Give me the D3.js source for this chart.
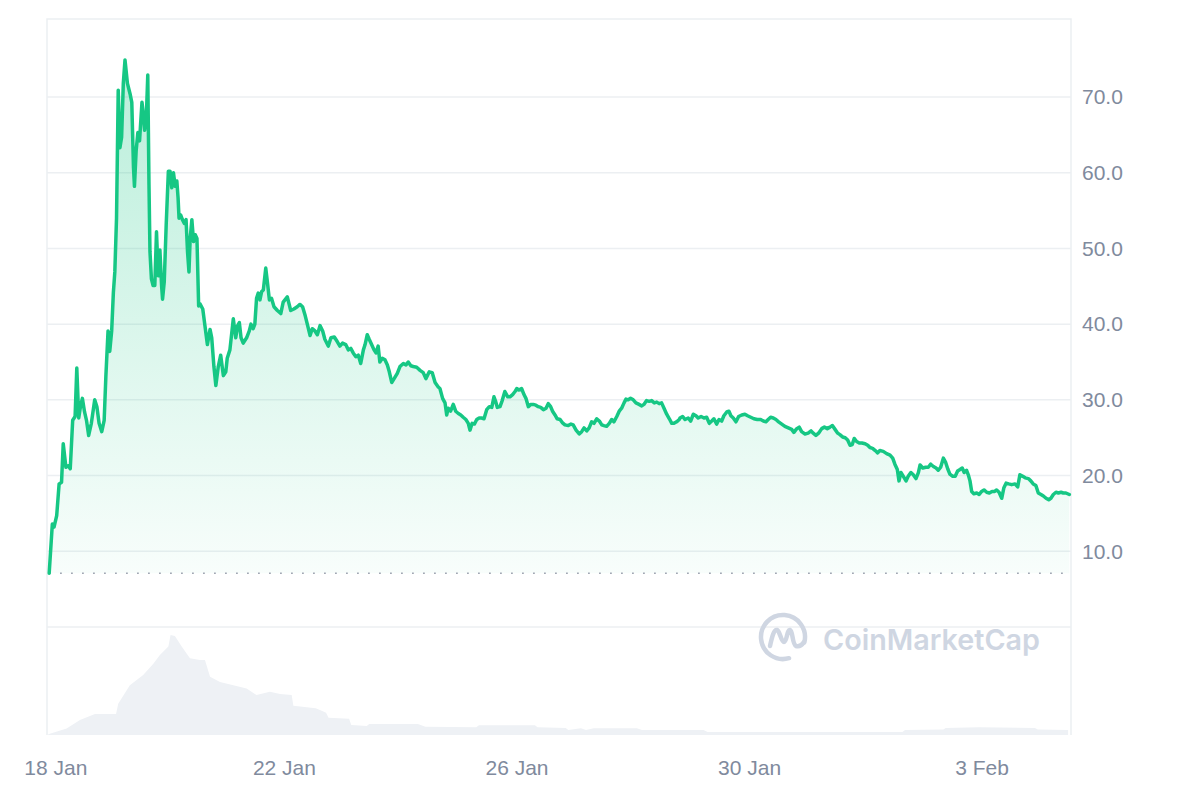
<!DOCTYPE html>
<html><head><meta charset="utf-8">
<script src="https://cdn.jsdelivr.net/npm/d3@7"></script>
<style>html,body{margin:0;padding:0;background:#fff;} svg{display:block}</style>
</head><body>
<svg id="chart" width="1200" height="800"></svg>
<script>
// ---- DATA (hours after 18 Jan 00:00) ----
const startDate = Date.UTC(2025, 0, 18, 0, 0);
const priceHours = [-0.9,0.4,1.1,2.2,3.2,4.2,4.9,6.0,7.0,7.8,8.8,9.8,10.5,11.3,12.0,12.8,13.7,14.5,15.4,16.5,17.9,18.8,19.7,20.8,21.8,22.5,23.4,24.1,24.9,25.6,26.2,26.9,27.6,28.3,29.0,29.7,30.4,31.4,32.5,33.2,33.9,34.3,35.0,35.7,36.4,37.4,37.9,38.5,39.2,39.8,40.3,40.7,41.3,42.0,42.7,43.4,44.1,44.8,45.5,45.9,46.6,47.4,48.3,49.0,49.7,50.4,51.1,51.8,52.3,52.7,53.4,54.1,54.9,55.6,56.2,56.8,57.3,58.0,58.7,59.4,60.1,60.8,
61.3,62.5,63.4,64.4,65.5,66.2,67.1,67.9,68.9,69.9,71.0,72.0,72.6,73.7,75.1,76.1,76.9,77.6,78.3,79.2,80.6,81.7,82.4,83.3,84.0,84.7,85.4,86.1,86.8,87.5,88.5,89.3,90.0,90.9,91.9,93.3,94.7,95.7,97.4,98.8,100.1,101.5,102.6,103.7,104.8,105.8,106.8,107.7,108.8,109.8,110.9,112.0,112.9,114.3,115.4,116.8,118.0,119.1,120.2,121.5,122.6,123.6,124.6,125.7,126.7,127.7,128.8,129.5,130.4,131.2,132.2,133.2,134.0,134.9,135.6,136.6,137.7,138.7,139.5,140.5,141.5,142.8,143.9,145.3,146.4,147.3,148.4,149.4,150.8,152.2,153.5,154.6,156.0,157.2,158.4,159.7,
160.4,161.5,162.5,163.2,163.8,164.8,165.9,166.9,168.0,169.0,170.0,171.1,172.1,172.8,173.7,174.6,175.6,176.6,177.6,178.6,179.7,180.8,181.8,182.7,183.4,184.1,185.2,186.1,187.2,188.4,189.3,190.4,191.4,192.1,193.0,194.1,195.1,195.9,196.9,197.9,198.9,200.0,201.0,202.0,203.1,204.2,205.1,206.1,206.9,207.9,208.8,210.0,210.9,212.0,213.4,214.5,215.4,216.6,217.9,218.9,219.9,221.0,222.0,223.0,224.0,225.1,226.2,227.2,228.1,229.2,230.3,231.3,232.2,233.4,234.4,235.4,236.4,237.2,238.1,239.1,240.2,241.3,242.6,243.7,244.6,245.7,246.8,247.8,248.9,249.9,250.9,251.9,252.9,254.0,255.1,256.1,257.0,258.1,259.2,
259.5,260.6,261.6,262.9,263.9,265.0,266.1,267.0,268.2,269.4,270.5,271.6,272.6,273.5,274.6,275.6,276.7,277.6,278.8,279.7,280.5,281.5,282.6,283.7,285.0,286.3,287.4,288.7,290.0,291.4,292.8,293.9,295.0,295.9,296.9,298.0,299.1,300.2,301.5,302.8,304.2,305.6,306.5,307.7,308.7,309.7,311.1,312.4,313.6,314.5,315.6,316.7,318.0,319.1,320.3,321.4,322.4,323.5,324.6,325.5,326.6,327.7,328.7,329.7,330.6,331.4,332.4,333.5,334.6,335.9,337.0,337.9,339.0,340.1,341.1,
342.0,343.4,344.8,346.2,347.3,348.2,349.2,349.9,350.7,351.7,352.8,353.7,354.8,355.8,356.9,357.9,358.6,359.7,360.9,362.0,363.0,364.1,365.2,366.1,367.1,368.2,369.2,370.0,370.9,372.1,373.1,374.1,375.1,376.0,376.8,377.8,378.5,379.2,379.9,380.8,382.0,383.0,384.0,385.0,386.1,387.2,388.3,389.4,390.2,391.2,392.3,393.2,394.1,395.2,396.4,397.8,398.9,399.8,401.0,402.0,403.3,404.3,405.3,406.4,407.4,408.5,409.5,410.6,411.7,412.6,413.6,414.7,415.7,416.8,417.7,418.8,420.2];
const priceValues = [7.1,13.6,13.2,14.7,18.9,19.1,24.2,21.1,21.3,20.9,27.3,27.8,34.2,27.6,29.1,30.2,28.4,27.3,25.3,26.9,30.0,29.1,26.9,25.8,27.3,33.1,39.1,36.4,39.1,44.2,46.9,54.0,70.9,63.3,64.7,71.8,74.9,71.8,70.4,69.3,60.7,58.2,62.9,65.3,64.2,69.3,68.0,65.6,67.3,72.9,58.4,49.6,46.0,45.1,45.1,52.2,46.4,49.8,45.1,43.3,45.6,53.1,60.2,60.2,58.0,60.0,58.2,58.9,56.7,54.0,54.4,53.8,53.3,53.8,49.6,46.9,51.3,53.8,50.9,51.8,51.3,42.4,
42.7,42.0,39.8,37.3,39.3,38.2,34.4,31.9,34.4,35.9,33.2,33.7,35.5,36.6,40.7,38.2,39.8,40.2,38.2,37.5,38.2,39.1,40.0,39.4,40.0,43.4,44.1,43.2,44.3,44.5,47.4,45.2,43.2,43.4,42.3,41.8,41.4,42.9,43.6,41.8,42.0,42.3,42.6,42.3,41.1,39.8,38.5,39.4,39.1,38.6,39.8,39.1,38.0,37.1,38.2,38.3,37.7,37.1,37.5,37.3,36.6,36.8,36.2,35.7,35.9,34.8,36.6,37.3,38.6,38.0,37.3,36.6,36.2,37.1,35.0,35.5,35.3,34.6,33.7,32.3,32.8,33.5,34.4,34.8,34.6,35.0,34.5,34.4,34.3,33.9,33.6,32.8,33.7,33.6,32.3,31.7,
31.5,30.2,29.6,28.0,28.9,28.5,29.4,28.5,28.2,28.0,27.7,27.4,26.9,26.0,26.9,26.8,27.4,27.6,27.6,27.5,28.7,29.1,29.0,30.4,29.8,29.0,29.1,29.9,31.1,30.4,30.4,30.7,31.1,31.5,31.3,31.5,30.7,30.2,29.1,29.4,29.4,29.3,29.1,29.0,28.7,28.9,29.5,29.1,28.5,28.0,27.5,27.4,27.0,26.7,26.6,26.8,26.7,26.0,25.5,25.8,26.3,25.9,26.3,27.1,26.9,27.5,27.2,26.7,26.6,26.5,26.9,27.4,27.1,27.8,28.5,28.9,29.6,30.1,30.0,30.2,30.0,29.6,29.4,29.2,29.4,29.9,29.8,29.9,29.6,29.7,29.5,29.6,28.9,28.1,27.5,26.9,26.9,27.1,27.4,
27.6,27.8,27.4,27.6,27.2,28.1,27.9,27.6,27.8,27.6,27.7,26.9,27.2,27.5,26.8,27.4,27.2,27.9,28.4,28.5,27.9,27.6,27.1,27.8,28.0,28.1,27.9,27.7,27.5,27.4,27.4,27.2,27.1,27.4,27.7,27.6,27.4,27.1,26.8,26.5,26.3,26.1,25.7,26.2,26.4,25.8,25.5,25.6,25.9,25.6,25.3,25.6,26.2,26.4,26.2,26.4,26.6,26.1,25.6,25.4,25.1,25.0,24.7,24.0,24.1,24.9,24.5,24.3,24.3,24.2,24.0,23.7,23.6,23.3,23.0,
23.3,23.2,22.9,22.7,22.3,21.5,20.8,19.3,20.4,19.9,19.3,19.9,20.4,20.1,19.6,20.4,21.4,21.0,21.1,21.1,21.5,21.2,21.0,20.7,21.1,22.3,21.7,20.9,20.2,19.9,19.9,20.6,20.8,21.0,20.4,20.7,20.1,19.3,17.9,17.6,17.7,17.5,17.9,18.1,17.8,17.7,17.9,17.9,18.1,17.8,17.0,18.4,19.0,18.9,18.8,18.9,18.5,20.1,19.9,19.7,19.6,19.3,18.9,18.7,17.7,17.5,17.3,17.0,16.8,17.0,17.5,17.8,17.7,17.8,17.7,17.7,17.5];
// volume, relative units (panel height = 100)
const volumeHours = [-1.3,6.3,11.8,18.0,26.7,27.6,32.4,37.9,42.1,44.8,48.3,49.2,51.0,53.8,57.2,61.3,63.4,65.5,69.6,75.1,80.6,84.7,90.2,94.4,99.2,99.9,109.1,111.6,113.4,114.4,122.9,123.8,130.2,131.2,151.3,154.4,175.4,176.5,199.6,200.7,212.3,213.4,218.6,220.7,223.9,241.7,243.8,269.2,270.9,351.3,352.4,368.2,369.2,382.9,406.0,407.2,419.7];
const volumeValues = [0.6,6,14,19.4,19.4,29,46,55.5,66,74,82,92.6,91.7,82,71,69.4,69.4,54,49,46,43,37,40,38,37,27,24.7,22.5,20.6,16,15,9.3,8.3,10.2,10.2,7.7,7.1,9,9,7.1,6.5,4.6,6.2,4.6,6.2,6.2,4.6,4.6,2.8,2.8,4.6,5.2,6.5,7.1,6.5,5.2,4.6];
const yTickValues = [10, 20, 30, 40, 50, 60, 70];
const gridValues = [0, 10, 20, 30, 40, 50, 60, 70];
const xTickDays = [0, 4, 8, 12, 16];
const xTickLabels = ["18 Jan", "22 Jan", "26 Jan", "30 Jan", "3 Feb"];
const openPrice = 7.1;
const xDomainHours = [-1.8, 420.9];

// ---- LAYOUT ----
const L = 47, R = 1071, T = 19, Z = 627, VB = 735;
const HOUR = 3600e3, DAY = 24 * HOUR;
const toDate = h => new Date(startDate + h * HOUR);
const svg = d3.select("#chart");
const font = "'Liberation Sans', Arial, sans-serif";

const x = d3.scaleUtc().domain(xDomainHours.map(toDate)).range([L, R]);
const y = d3.scaleLinear().domain([0, 80.3]).range([Z, T]);
const vy = d3.scaleLinear().domain([0, 100]).range([VB, Z]);

const price = priceHours.map((h, i) => ({ t: toDate(h), v: priceValues[i] }));
const volume = volumeHours.map((h, i) => ({ t: toDate(h), v: volumeValues[i] }));

// gradient
const defs = svg.append("defs");
const grad = defs.append("linearGradient").attr("id", "g").attr("gradientUnits", "userSpaceOnUse")
  .attr("x1", 0).attr("x2", 0).attr("y1", y(75)).attr("y2", y(openPrice));
grad.append("stop").attr("offset", 0).attr("stop-color", "#16c784").attr("stop-opacity", 0.3);
grad.append("stop").attr("offset", 1).attr("stop-color", "#16c784").attr("stop-opacity", 0.03);

// gridlines
svg.append("g").selectAll("line").data(gridValues).join("line")
  .attr("x1", L).attr("x2", R).attr("y1", d => y(d)).attr("y2", d => y(d))
  .attr("stroke", "#eceff2").attr("stroke-width", 1.5);

// frame
svg.append("path").attr("d", `M${L},${VB}V${T}H${R}V${VB}`)
  .attr("fill", "none").attr("stroke", "#eceff2").attr("stroke-width", 1.5);

// volume
svg.append("path").datum(volume)
  .attr("d", d3.area().x(d => x(d.t)).y0(VB).y1(d => vy(d.v)))
  .attr("fill", "#eef1f5");

// watermark
const wm = svg.append("g").attr("transform", "translate(783,637)");
wm.append("path")
  .attr("d", "M6,21.2 A22,22 0 1 1 21.3,5.5")
  .attr("fill", "none").attr("stroke", "#cfd6e2").attr("stroke-width", 4.5).attr("stroke-linecap", "round");
wm.append("path")
  .attr("d", "M-13,9 C-11,0 -9,-8 -6,-7 C-3,-6 -2,5 1,5 C4,5 4,-8 7,-7 C10,-6 9,7 13,9 C16,10 19,8 21,5")
  .attr("fill", "none").attr("stroke", "#cfd6e2").attr("stroke-width", 4.5).attr("stroke-linecap", "round").attr("stroke-linejoin", "round");
svg.append("text").attr("x", 823).attr("y", 650)
  .attr("font-family", "Inter, 'Noto Sans', sans-serif").attr("font-weight", 600).attr("font-size", 29)
  .attr("fill", "#cfd6e2").attr("textLength", 217).attr("lengthAdjust", "spacingAndGlyphs")
  .text("CoinMarketCap");

// area + line
svg.append("path").datum(price)
  .attr("d", d3.area().x(d => x(d.t)).y0(y(openPrice)).y1(d => y(d.v)))
  .attr("fill", "url(#g)");

svg.append("line").attr("x1", x(price[0].t)).attr("x2", R)
  .attr("y1", y(openPrice)).attr("y2", y(openPrice))
  .attr("stroke", "#8d95a3").attr("stroke-width", 1.5).attr("stroke-dasharray", "1.5 9.5");

svg.append("path").datum(price)
  .attr("d", d3.line().x(d => x(d.t)).y(d => y(d.v)))
  .attr("fill", "none").attr("stroke", "#16c784").attr("stroke-width", 3.5)
  .attr("stroke-linejoin", "round").attr("stroke-linecap", "round");

// axes
const yAxis = svg.append("g").attr("transform", "translate(1082,0)")
  .call(d3.axisRight(y).tickValues(yTickValues).tickFormat(d3.format(".1f")).tickSize(0).tickPadding(0));
const xAxis = svg.append("g").attr("transform", `translate(0,${757})`)
  .call(d3.axisBottom(x).tickValues(xTickDays.map(d => new Date(startDate + d * DAY)))
    .tickFormat((d, i) => xTickLabels[i]).tickSize(0).tickPadding(3));
[yAxis, xAxis].forEach(g => {
  g.select(".domain").remove();
  g.selectAll("text").attr("font-family", font).attr("font-size", 21).attr("fill", "#808a9d");
});
xAxis.selectAll(".tick").filter((d, i) => i === 0).select("text").attr("dx", 4);
</script>
</body></html>
